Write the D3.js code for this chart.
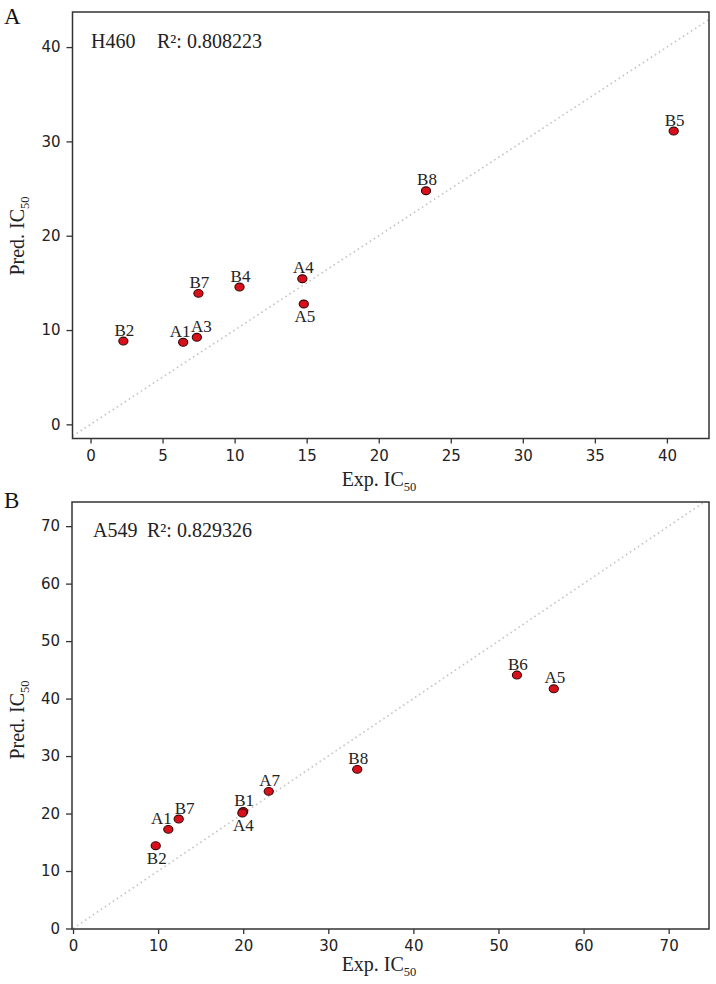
<!DOCTYPE html>
<html>
<head>
<meta charset="utf-8">
<script src="https://cdn.jsdelivr.net/npm/d3@7"></script>
<style>
  html, body { margin: 0; padding: 0; background: #ffffff; }
  svg { display: block; }
</style>
</head>
<body>
<svg id="chart" width="716" height="984"></svg>
<script>
// ---------- Data ----------
// Panel A : H460
const aCompounds = ["B2", "A1", "A3", "B7", "B4", "A4", "A5", "B8", "B5"];
const aExp       = [2.28, 6.43, 7.38, 7.49, 10.34, 14.70, 14.80, 23.28, 40.47];
const aPred      = [8.83, 8.70, 9.23, 13.89, 14.56, 15.44, 12.76, 24.77, 31.10];
const aLabelSide = ["top", "top-left", "top-right", "top", "top", "top", "bottom", "top", "top"];
const aXTicks = [0, 5, 10, 15, 20, 25, 30, 35, 40];
const aYTicks = [0, 10, 20, 30, 40];
const aCell = "H460";
const aR2 = "0.808223";

// Panel B : A549
const bCompounds = ["B2", "A1", "B7", "B1", "A4", "A7", "B8", "B6", "A5"];
const bExp       = [9.72, 11.20, 12.42, 20.00, 19.90, 23.00, 33.40, 52.17, 56.50];
const bPred      = [14.40, 17.25, 19.04, 20.35, 20.10, 23.86, 27.69, 44.09, 41.70];
const bLabelSide = ["bottom", "top-left", "top-right", "top", "bottom", "top", "top", "top", "top"];
const bXTicks = [0, 10, 20, 30, 40, 50, 60, 70];
const bYTicks = [0, 10, 20, 30, 40, 50, 60, 70];
const bCell = "A549";
const bR2 = "0.829326";

// ---------- Drawing ----------
const svg = d3.select("#chart");
const serif = "'Liberation Serif', 'Times New Roman', serif";
const sans = "'DejaVu Sans', sans-serif";

function drawPanel(p) {
  const g = svg.append("g");
  const x = d3.scaleLinear().domain(p.xDomain).range([p.left, p.right]);
  const y = d3.scaleLinear().domain(p.yDomain).range([p.bottom, p.top]);
  const clipId = "clip" + p.letter;
  svg.append("defs").append("clipPath").attr("id", clipId)
    .append("rect").attr("x", p.left).attr("y", p.top)
    .attr("width", p.right - p.left).attr("height", p.bottom - p.top);

  // diagonal y = x
  const lo = p.diag[0], hi = p.diag[1];
  g.append("line")
    .attr("clip-path", `url(#${clipId})`)
    .attr("x1", x(lo)).attr("y1", y(lo))
    .attr("x2", x(hi)).attr("y2", y(hi))
    .attr("stroke", "#c4c4c4").attr("stroke-width", 1.6)
    .attr("stroke-dasharray", "1.6,3.2");

  // axes
  const xAxis = d3.axisBottom(x).tickValues(p.xTicks).tickSize(5).tickPadding(6).tickFormat(d3.format("d"));
  const yAxis = d3.axisLeft(y).tickValues(p.yTicks).tickSize(6).tickPadding(6).tickFormat(d3.format("d"));
  const gx = g.append("g").attr("transform", `translate(0,${p.bottom})`).call(xAxis);
  const gy = g.append("g").attr("transform", `translate(${p.left},0)`).call(yAxis);
  [gx, gy].forEach(a => {
    a.select(".domain").remove();
    a.selectAll(".tick line").attr("stroke", "#333").attr("stroke-width", 1.3);
    a.selectAll(".tick text").attr("font-family", sans).attr("font-size", 15).attr("fill", "#222");
  });
  gx.selectAll(".tick text").attr("dy", "0.76em");

  // frame
  g.append("rect").attr("x", p.left).attr("y", p.top)
    .attr("width", p.right - p.left).attr("height", p.bottom - p.top)
    .attr("fill", "none").attr("stroke", "#333").attr("stroke-width", 1.5);

  // points
  const data = p.names.map((n, i) => ({ n, ex: p.exp[i], pr: p.pred[i], side: p.side[i] }));
  g.selectAll("ellipse.pt").data(data).enter().append("ellipse")
    .attr("class", "pt")
    .attr("cx", d => x(d.ex)).attr("cy", d => y(d.pr))
    .attr("rx", 4.6).attr("ry", 3.9)
    .attr("fill", "#d8101c").attr("stroke", "#3a0505").attr("stroke-width", 1.1);

  // point labels
  g.selectAll("text.lbl").data(data).enter().append("text")
    .attr("class", "lbl")
    .attr("x", d => x(d.ex) + (d.side === "top-left" ? p.sideDx[0] : d.side === "top-right" ? p.sideDx[1] : 1))
    .attr("y", d => y(d.pr) + (d.side === "bottom" ? 18 : -5.5))
    .attr("text-anchor", "middle")
    .attr("font-family", serif).attr("font-size", 17).attr("fill", "#222")
    .text(d => d.n);

  // annotation
  g.append("text").attr("x", p.annX[0]).attr("y", p.annY)
    .attr("font-family", serif).attr("font-size", 20).attr("fill", "#222").text(p.cell);
  g.append("text").attr("x", p.annX[1]).attr("y", p.annY)
    .attr("font-family", serif).attr("font-size", 20).attr("fill", "#222").text("R\u00B2: " + p.r2);

  // panel letter
  g.append("text").attr("x", 4).attr("y", p.letterY)
    .attr("font-family", serif).attr("font-size", 23).attr("fill", "#111").text(p.letter);

  // x label
  const xl = g.append("text").attr("x", p.xLabelX).attr("y", p.xLabelY)
    .attr("text-anchor", "middle").attr("font-family", serif).attr("font-size", 20).attr("fill", "#222");
  xl.append("tspan").text("Exp. IC");
  xl.append("tspan").attr("font-size", 12.5).attr("dy", 5).text("50");

  // y label
  const yl = g.append("text")
    .attr("transform", `translate(24,${p.yLabelY}) rotate(-90)`)
    .attr("text-anchor", "middle").attr("font-family", serif).attr("font-size", 20).attr("fill", "#222");
  yl.append("tspan").text("Pred. IC");
  yl.append("tspan").attr("font-size", 12.5).attr("dy", 5).text("50");
}

drawPanel({
  letter: "A", letterY: 24,
  names: aCompounds, exp: aExp, pred: aPred, side: aLabelSide,
  sideDx: [-3, 4.5],
  xTicks: aXTicks, yTicks: aYTicks,
  xDomain: [-1.25, 42.92], yDomain: [-1.5, 43.72],
  diag: [-1.25, 44],
  left: 72.5, right: 709, top: 12, bottom: 438.5,
  cell: aCell, r2: aR2, annX: [91, 157], annY: 48,
  xLabelX: 379, xLabelY: 486, yLabelY: 236
});

drawPanel({
  letter: "B", letterY: 508,
  names: bCompounds, exp: bExp, pred: bPred, side: bLabelSide,
  sideDx: [-7, 6],
  xTicks: bXTicks, yTicks: bYTicks,
  xDomain: [-0.12, 74.74], yDomain: [-0.09, 74.2],
  diag: [0, 75],
  left: 72, right: 709, top: 502, bottom: 929,
  cell: bCell, r2: bR2, annX: [93, 147], annY: 537,
  xLabelX: 379, xLabelY: 971, yLabelY: 720
});
</script>
</body>
</html>
